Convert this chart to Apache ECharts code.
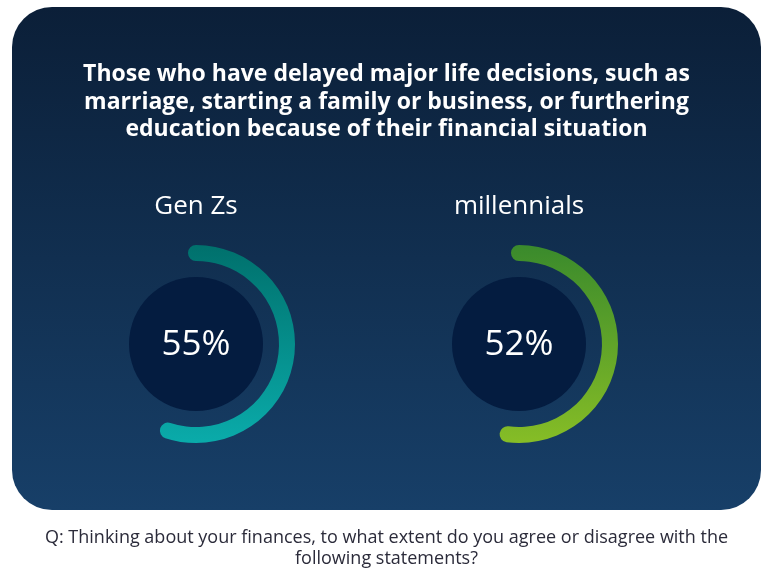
<!DOCTYPE html>
<html>
<head>
<meta charset="utf-8">
<script src="https://cdn.jsdelivr.net/npm/echarts@6/dist/echarts.min.js"></script>
<style>
  html, body { margin: 0; padding: 0; background: #fff; }
  #main { width: 773px; height: 581px; }
</style>
</head>
<body>
<div id="main"></div>
<script>
var myChart = echarts.init(document.getElementById('main'));

// data
var groups = ['Gen Zs', 'millennials'];
var values = [55, 52];
var titleText = 'Those who have delayed major life decisions, such as\nmarriage, starting a family or business, or furthering\neducation because of their financial situation';
var noteText = 'Q: Thinking about your finances, to what extent do you agree or disagree with the\nfollowing statements?';

// styling per gauge
var centers = [[196, 344], [519, 344]];
var gradients = [
    ['#00706c', '#0aabaa'],
    ['#3a8a2c', '#86bd26']
];

var series = [];
groups.forEach(function (name, i) {
    // inner dark disc
    series.push({
        type: 'pie',
        silent: true,
        z: 1,
        center: centers[i],
        radius: [0, 67],
        label: { show: false },
        labelLine: { show: false },
        itemStyle: { color: '#041c40' },
        data: [{ value: 1, name: name }]
    });
    series.push({
        name: name,
        type: 'gauge',
        z: 5,
        center: centers[i],
        radius: 99,
        startAngle: 90,
        endAngle: -270,
        min: 0,
        max: 100,
        pointer: { show: false },
        progress: {
            show: true,
            roundCap: true,
            width: 16,
            itemStyle: {
                color: new echarts.graphic.LinearGradient(0, 0, 0, 1, [
                    { offset: 0, color: gradients[i][0] },
                    { offset: 1, color: gradients[i][1] }
                ])
            }
        },
        axisLine: { show: false },
        splitLine: { show: false },
        axisTick: { show: false },
        axisLabel: { show: false },
        title: { show: false },
        detail: {
            offsetCenter: [0, 1],
            formatter: '{value}%',
            color: '#ffffff',
            fontSize: 35,
            fontWeight: 'normal',
            fontFamily: 'Open Sans'
        },
        data: [{ value: values[i], name: name }]
    });
});

var option = {
    backgroundColor: '#ffffff',
    graphic: [
        {
            type: 'rect',
            z: -10,
            shape: { x: 12, y: 7, width: 749, height: 503, r: 40 },
            style: {
                fill: new echarts.graphic.LinearGradient(0, 0, 0, 1, [
                    { offset: 0, color: '#0b1f38' },
                    { offset: 1, color: '#173f68' }
                ])
            }
        },
        {
            type: 'text',
            left: 'center',
            top: 61,
            style: {
                text: titleText,
                fill: '#ffffff',
                font: 'bold 23px "Open Sans"',
                lineHeight: 27.5,
                textAlign: 'center'
            }
        },
        {
            type: 'text',
            x: centers[0][0],
            y: 207,
            style: {
                text: groups[0],
                fill: '#ffffff',
                font: '26px "Open Sans"',
                textAlign: 'center',
                textVerticalAlign: 'middle'
            }
        },
        {
            type: 'text',
            x: centers[1][0],
            y: 207,
            style: {
                text: groups[1],
                fill: '#ffffff',
                font: '26px "Open Sans"',
                textAlign: 'center',
                textVerticalAlign: 'middle'
            }
        },
        {
            type: 'text',
            left: 'center',
            top: 527,
            style: {
                text: noteText,
                fill: '#2b2b3a',
                font: '18px "Open Sans"',
                lineHeight: 21,
                textAlign: 'center'
            }
        }
    ],
    series: series
};

myChart.setOption(option);
</script>
</body>
</html>
